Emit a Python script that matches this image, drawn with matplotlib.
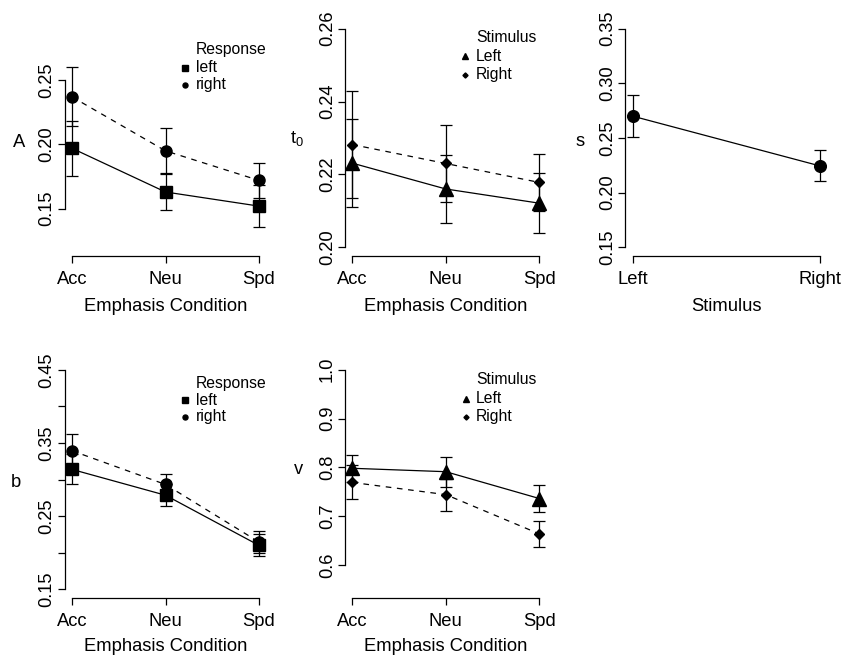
import numpy as np
import matplotlib
matplotlib.use("Agg")
import matplotlib.pyplot as plt

plt.rcParams['font.family'] = ['Liberation Sans', 'DejaVu Sans']
plt.rcParams['mathtext.fontset'] = 'custom'
plt.rcParams['mathtext.rm'] = 'Liberation Sans'
plt.rcParams['mathtext.it'] = 'Liberation Sans'

# data
cond = ['Acc', 'Neu', 'Spd']
stim = ['Left', 'Right']

A_left = [0.197, 0.163, 0.152]
A_left_se = [0.0216, 0.0142, 0.0163]
A_right = [0.237, 0.195, 0.172]
A_right_se = [0.0229, 0.0174, 0.0135]

t0_left = [0.2231, 0.2160, 0.2121]
t0_left_se = [0.0120, 0.0094, 0.0082]
t0_right = [0.2282, 0.2230, 0.2178]
t0_right_se = [0.0148, 0.0105, 0.0078]

s_vals = [0.270, 0.2245]
s_se = [0.0193, 0.0142]

b_left = [0.3138, 0.2785, 0.2099]
b_left_se = [0.0206, 0.0151, 0.0150]
b_right = [0.3393, 0.2932, 0.2145]
b_right_se = [0.0229, 0.0141, 0.0146]

v_left = [0.798, 0.791, 0.736]
v_left_se = [0.0275, 0.0304, 0.028]
v_right = [0.769, 0.744, 0.6635]
v_right_se = [0.035, 0.033, 0.027]

FS = 13.2
LFS = 11.3
W, H = 841, 657

fig = plt.figure(figsize=(W / 100, H / 100), dpi=100)


def make_ax(left_px, top_px, bot_px, width_px=202):
    return fig.add_axes([left_px / W, 1 - bot_px / H, width_px / W, (bot_px - top_px) / H])


def style(ax, n, xlabels, ylim, yticks, ylab, ylab_xy, xlab, fmt='%.2f', lp=6.8):
    lo, hi = ylim
    d = (hi - lo) * 0.04
    ax.set_ylim(lo - d, hi + d)
    ax.set_xlim(1 - 0.04 * (n - 1), n + 0.04 * (n - 1))
    for sp in ['top', 'right']:
        ax.spines[sp].set_visible(False)
    ax.spines['left'].set_bounds(yticks[0], yticks[-1])
    ax.spines['bottom'].set_bounds(1, n)
    for sp in ['left', 'bottom']:
        ax.spines[sp].set_linewidth(0.9)
    ax.set_xticks(range(1, n + 1))
    ax.set_xticklabels(xlabels, fontsize=FS)
    ax.set_yticks(yticks)
    ax.set_yticklabels([fmt % t for t in yticks], fontsize=FS, rotation=90, va='center')
    ax.tick_params(direction='out', length=5, width=0.9)
    ax.tick_params(axis='y', pad=1.5)
    ax.tick_params(axis='x', pad=6)
    ax.set_xlabel(xlab, fontsize=FS, labelpad=lp)
    ax.text(ylab_xy[0], ylab_xy[1], ylab, transform=ax.transAxes, fontsize=FS,
            ha='center', va='baseline')


def series(ax, y, se, marker, ms, ls):
    x = np.arange(1, len(y) + 1)
    ax.errorbar(x, y, yerr=se, fmt='none', ecolor='black', elinewidth=0.9,
                capsize=4.2, capthick=0.9, zorder=2)
    ax.plot(x, y, color='black', linestyle=ls, linewidth=0.9,
            dashes=(4.5, 4.5) if ls == '--' else (None, None),
            marker=marker, markersize=ms, zorder=3)


def legend(ax, title, names, markers, sizes, xs, ys):
    ax.text(xs[1], ys[0], title, transform=ax.transAxes, fontsize=LFS, va='center', ha='left')
    for nm, mk, ms, yy in zip(names, markers, sizes, ys[1:]):
        ax.plot([xs[0]], [yy], marker=mk, markersize=ms, color='black',
                transform=ax.transAxes, clip_on=False, linestyle='none')
        ax.text(xs[1], yy, nm, transform=ax.transAxes, fontsize=LFS, va='center', ha='left')


# panel A
ax1 = make_ax(64.5, 20, 256)
series(ax1, A_left, A_left_se, 's', 8.4, '-')
series(ax1, A_right, A_right_se, 'o', 8, '--')
style(ax1, 3, cond, (0.12, 0.29), [0.15, 0.20, 0.25], 'A', (-0.225, 0.462), 'Emphasis Condition')
legend(ax1, 'Response', ['left', 'right'], ['s', 'o'], [4, 3.6],
       (0.597, 0.651), (0.873, 0.797, 0.725))

# panel t0
ax2 = make_ax(344.8, 20, 256)
series(ax2, t0_left, t0_left_se, '^', 9.5, '-')
series(ax2, t0_right, t0_right_se, 'D', 4.6, '--')
style(ax2, 3, cond, (0.20, 0.26), [0.20, 0.22, 0.24, 0.26], r'$\mathregular{t_0}$',
      (-0.237, 0.48), 'Emphasis Condition')
legend(ax2, 'Stimulus', ['Left', 'Right'], ['^', 'D'], [4.5, 2.6],
       (0.595, 0.65), (0.925, 0.847, 0.767))

# panel s
ax3 = make_ax(625.2, 20, 256)
ax3.errorbar([1, 2], s_vals, yerr=s_se, fmt='none', ecolor='black', elinewidth=0.9,
             capsize=4.2, capthick=0.9)
ax3.plot([1, 2], s_vals, color='black', linewidth=0.9, marker='o', markersize=8.4)
style(ax3, 2, stim, (0.15, 0.35), [0.15, 0.20, 0.25, 0.30, 0.35], 's',
      (-0.224, 0.466), 'Stimulus')

# panel b
ax4 = make_ax(64.5, 361, 598)
series(ax4, b_left, b_left_se, 's', 8.4, '-')
series(ax4, b_right, b_right_se, 'o', 8, '--')
style(ax4, 3, cond, (0.15, 0.45), [0.15, 0.20, 0.25, 0.30, 0.35, 0.40, 0.45], 'b',
      (-0.24, 0.468), 'Emphasis Condition', lp=5.8)
labs = ax4.get_yticklabels()
for i, lb in enumerate(labs):
    if i % 2 == 1:
        lb.set_visible(False)
legend(ax4, 'Response', ['left', 'right'], ['s', 'o'], [4, 3.6],
       (0.597, 0.651), (0.907, 0.835, 0.764))

# panel v
ax5 = make_ax(344.8, 361, 598)
series(ax5, v_left, v_left_se, '^', 9.5, '-')
series(ax5, v_right, v_right_se, 'D', 4.6, '--')
style(ax5, 3, cond, (0.55, 1.0), [0.6, 0.7, 0.8, 0.9, 1.0], 'v',
      (-0.227, 0.523), 'Emphasis Condition', fmt='%.1f', lp=5.8)
legend(ax5, 'Stimulus', ['Left', 'Right'], ['^', 'D'], [4.5, 2.6],
       (0.6, 0.65), (0.92, 0.84, 0.764))

fig.savefig('out.png', dpi=100)
